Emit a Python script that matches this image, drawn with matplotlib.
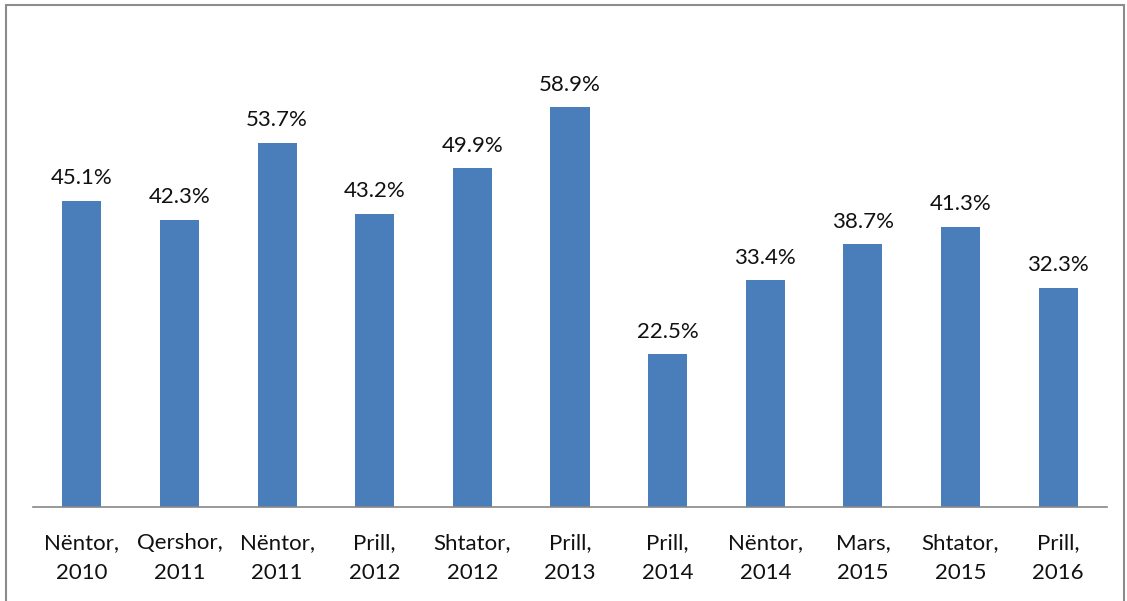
import matplotlib.pyplot as plt
from matplotlib.patches import Rectangle

# data
periods = ["Nëntor,\n2010", "Qershor,\n2011", "Nëntor,\n2011", "Prill,\n2012",
           "Shtator,\n2012", "Prill,\n2013", "Prill,\n2014", "Nëntor,\n2014",
           "Mars,\n2015", "Shtator,\n2015", "Prill,\n2016"]
values = [45.1, 42.3, 53.7, 43.2, 49.9, 58.9, 22.5, 33.4, 38.7, 41.3, 32.3]

W, H = 1127, 601
fig = plt.figure(figsize=(W / 100, H / 100), dpi=100)
plt.rcParams['font.family'] = ['Lato', 'DejaVu Sans']

# outer chart frame
fig.patches.append(Rectangle((6 / W, -0.05), 1118 / W, 1 - 5 / H + 0.05,
                             transform=fig.transFigure, fill=False,
                             edgecolor='#8c8c8c', linewidth=1.5))

left, right = 33, 1107
bottom, top = 507, 32
ax = fig.add_axes([left / W, 1 - bottom / H, (right - left) / W, (bottom - top) / H])

x = range(len(values))
bars = ax.bar(x, values, width=0.4, color='#4a7ebb')
for xi, v in zip(x, values):
    ax.annotate(f"{v:.1f}%", (xi, v), xytext=(0, 9), textcoords='offset points',
                ha='center', va='bottom', fontsize=16, color='#111111')

ax.set_xlim(-0.5, len(values) - 0.5)
ax.set_ylim(0, 70)
ax.set_xticks(list(x))
ax.set_xticklabels(periods, fontsize=16, color='#111111', linespacing=1.6)
ax.tick_params(axis='x', length=0, pad=19)
ax.set_yticks([])
for s in ['top', 'right', 'left']:
    ax.spines[s].set_visible(False)
ax.spines['bottom'].set_color('#888888')
ax.spines['bottom'].set_linewidth(1.2)

fig.savefig("out.png", dpi=100)
